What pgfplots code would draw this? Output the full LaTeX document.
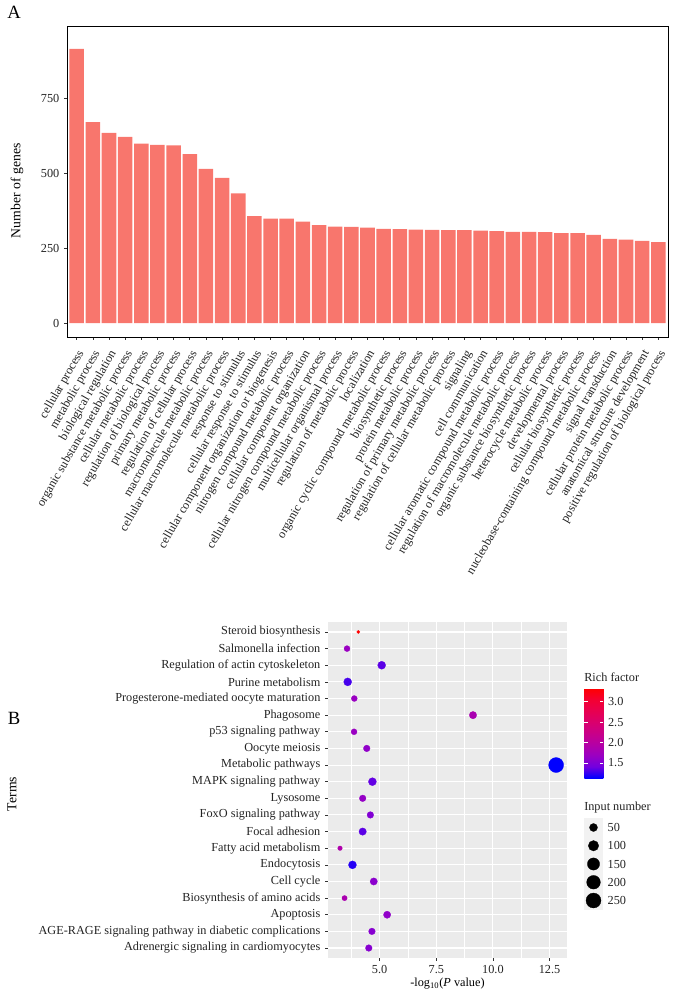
\documentclass[border=0pt]{standalone}
\usepackage{pgfplots}
\pgfplotsset{compat=1.18}
\usepackage{pgfplotstable}
\usepackage{fontspec}
\setmainfont{Liberation Serif}
\definecolor{barred}{RGB}{248,118,109}
\definecolor{ggbg}{RGB}{235,235,235}
\definecolor{keybg}{RGB}{242,242,242}
\definecolor{txt}{RGB}{35,35,35}
\definecolor{tickc}{RGB}{51,51,51}

\pgfplotstableread{
x y n rf
4.52 1 30 1.55
4.66 2 30 1.55
5.33 3 38 1.62
3.45 4 17 1.85
4.74 5 38 1.58
3.80 6 49 1.22
3.25 7 13 1.90
4.25 8 40 1.35
4.59 9 30 1.52
4.25 10 30 1.65
4.68 11 49 1.37
12.79 12 250 1.13
4.43 13 30 1.62
3.87 14 23 1.68
9.12 15 40 1.85
3.88 16 23 1.68
3.59 17 49 1.30
5.09 18 49 1.35
3.56 19 23 1.68
4.06 20 10 3.34
}\keggdata

\pgfplotstableread{
x y n
0.5 1 250
0.5 2 200
0.5 3 150
0.5 4 100
0.5 5 50
}\sizekey

\newcommand{\lab}{\fontsize{9.2}{11}\selectfont}
\newcommand{\ttl}{\fontsize{10.3}{12}\selectfont}

\begin{document}
\begin{tikzpicture}
\path[use as bounding box] (0,0) rectangle (504pt,743.25pt);

\begin{axis}[
  name=A,
  at={(50.25pt,490.5pt)}, anchor=south west,
  scale only axis, width=450.75pt, height=233.25pt,
  xmin=0.4, xmax=37.6, ymin=-46, ymax=990,
  ytick={0,250,500,750},
  xtick={1,...,37},
  xticklabels={cellular process,metabolic process,biological regulation,organic substance metabolic process,cellular metabolic process,regulation of biological process,primary metabolic process,regulation of cellular process,macromolecule metabolic process,cellular macromolecule metabolic process,response to stimulus,cellular response to stimulus,cellular component organization or biogenesis,nitrogen compound metabolic process,cellular component organization,cellular nitrogen compound metabolic process,multicellular organismal process,regulation of metabolic process,localization,organic cyclic compound metabolic process,biosynthetic process,protein metabolic process,regulation of primary metabolic process,regulation of cellular metabolic process,signaling,cell communication,cellular aromatic compound metabolic process,regulation of macromolecule metabolic process,organic substance biosynthetic process,heterocycle metabolic process,developmental process,cellular biosynthetic process,nucleobase-containing compound metabolic process,signal transduction,cellular protein metabolic process,anatomical structure development,positive regulation of biological process},
  tick pos=left, tick align=outside,
  major tick length=2.25pt,
  tick style={tickc, line width=0.5pt},
  axis line style={black, line width=0.6pt},
  tick label style={font=\lab, text=txt},
  xticklabel style={rotate=60, anchor=north east, inner sep=0.5pt, yshift=-2.5pt, xshift=-5pt},
  /pgf/number format/assume math mode=true,
  ylabel={Number of genes},
  ylabel style={font=\ttl, at={(axis description cs:-0.083,0.47)}, anchor=center},
]
\addplot[ybar, bar width=0.9, fill=barred, draw=none] coordinates {
(1,914) (2,670) (3,634) (4,621) (5,598) (6,594) (7,592) (8,563) (9,514) (10,484)
(11,432) (12,357) (13,348) (14,348) (15,338) (16,327) (17,322) (18,321) (19,318) (20,314)
(21,313) (22,312) (23,311) (24,310) (25,310) (26,308) (27,307) (28,304) (29,304) (30,303)
(31,300) (32,300) (33,294) (34,281) (35,278) (36,274) (37,270)
};
\end{axis}

\begin{axis}[
  name=B,
  at={(246pt,24.75pt)}, anchor=south west,
  scale only axis, width=179.25pt, height=252pt,
  xmin=2.72, xmax=13.27, ymin=0.4, ymax=20.6,
  axis background/.style={fill=ggbg},
  axis line style={draw=none},
  xtick={5,7.5,10,12.5}, xticklabels={5.0,7.5,10.0,12.5},
  minor xtick={3.75,6.25,8.75,11.25},
  ytick={1,...,20},
  yticklabels={Adrenergic signaling in cardiomyocytes,AGE-RAGE signaling pathway in diabetic complications,Apoptosis,Biosynthesis of amino acids,Cell cycle,Endocytosis,Fatty acid metabolism,Focal adhesion,FoxO signaling pathway,Lysosome,MAPK signaling pathway,Metabolic pathways,Oocyte meiosis,p53 signaling pathway,Phagosome,Progesterone-mediated oocyte maturation,Purine metabolism,Regulation of actin cytoskeleton,Salmonella infection,Steroid biosynthesis},
  xmajorgrids, ymajorgrids, xminorgrids,
  major grid style={white, line width=0.8pt},
  minor grid style={white, line width=0.4pt},
  tick align=outside, tick pos=left,
  major tick length=2.2pt, minor tick length=0pt,
  tick style={tickc, line width=0.5pt},
  tick label style={font=\lab, text=txt},
  xlabel={-log\textsubscript{10}(\textit{P} value)},
  xlabel style={font=\lab, at={(axis description cs:0.5,-0.077)}, anchor=center},
  ylabel={Terms},
  ylabel style={font=\ttl, at={(axis description cs:-1.322,0.488)}, anchor=center},
  colormap={rfmap}{rgb255=(0,0,255) rgb255=(114,0,224) rgb255=(154,0,194) rgb255=(181,0,165) rgb255=(201,0,136) rgb255=(218,0,108) rgb255=(232,0,79) rgb255=(244,0,49) rgb255=(255,0,0)},
  point meta min=1.13, point meta max=3.34,
  colorbar,
  colorbar style={
    at={(parent axis.north east)}, anchor=north west,
    xshift=4.5pt, yshift=-49.5pt,
    scale only axis, width=14.25pt, height=67.5pt,
    axis line style={draw=none},
    ytick={1.5,2,2.5,3}, yticklabels={1.5,2.0,2.5,3.0},
    yticklabel pos=right, ytick pos=both,
    tick align=inside, major tick length=2.8pt,
    tick style={white, line width=0.6pt},
    yticklabel style={font=\lab, text=txt},
  },
]
\addplot[scatter, only marks, mark=*,
  point meta=\thisrow{rf},
  mark options={line width=0.2pt},
  scatter/use mapped color={draw=mapped color, fill=mapped color},
  visualization depends on={0.375*(3.3+sqrt(0.571*(\thisrow{n}-10))) \as \msize},
  scatter/@pre marker code/.append style={/tikz/mark size=\msize pt},
] table[x=x, y=y] {\keggdata};
\end{axis}

\begin{axis}[
  at={(438pt,60.75pt)}, anchor=south west,
  scale only axis, width=14.25pt, height=69pt,
  xmin=0, xmax=1, ymin=0.48, ymax=5.52,
  axis background/.style={fill=keybg},
  axis line style={draw=none},
  xtick=\empty,
  ytick={1,...,5}, yticklabels={250,200,150,100,50},
  yticklabel pos=right, major tick length=0pt,
  tick style={draw=none},
  tick label style={font=\lab, text=txt},
]
\addplot[scatter, only marks, mark=*,
  point meta=\thisrow{n},
  mark options={line width=0.2pt},
  scatter/use mapped color={draw=black, fill=black},
  visualization depends on={0.375*(3.3+sqrt(0.571*(\thisrow{n}-10))) \as \msize},
  scatter/@pre marker code/.append style={/tikz/mark size=\msize pt},
] table[x=x, y=y] {\sizekey};
\end{axis}

\node[font=\fontsize{14}{16}\selectfont, anchor=center] at (10.5pt,734.25pt) {A};
\node[font=\fontsize{14}{16}\selectfont, anchor=center] at (10.5pt,204.75pt) {B};
\node[font=\lab, anchor=west, inner sep=0pt, text=txt] at (438pt,235.5pt) {Rich factor};
\node[font=\lab, anchor=west, inner sep=0pt, text=txt] at (438pt,137.25pt) {Input number};
\end{tikzpicture}
\end{document}
